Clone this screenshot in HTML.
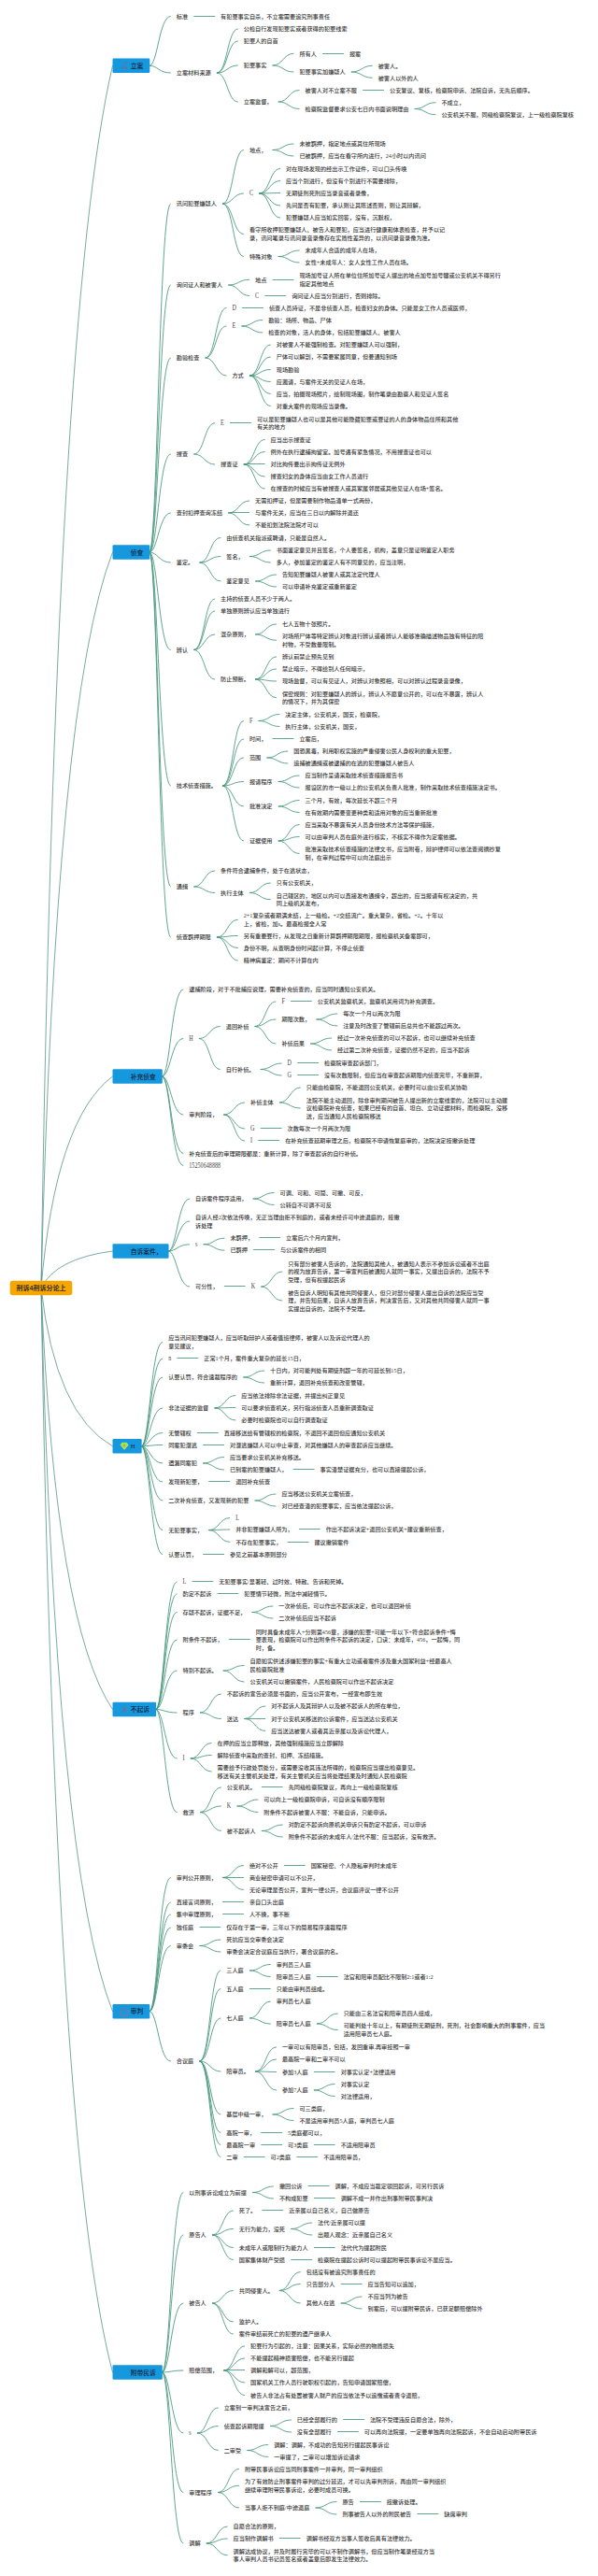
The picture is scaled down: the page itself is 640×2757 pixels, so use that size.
<!DOCTYPE html>
<html lang="zh-CN"><head><meta charset="utf-8"><title>刑诉4刑诉分论上</title>
<style>
html,body{margin:0;padding:0;background:#fff}
body{width:640px;height:2757px;overflow:hidden}
svg{display:block}
text{font-family:"Liberation Serif","Noto Sans CJK SC",sans-serif;font-size:6.16px;fill:#363636;font-weight:500}
.bt{font-weight:500;font-family:"Liberation Serif","Noto Sans CJK SC",sans-serif;font-size:6.75px;fill:#14233c}
.a{font-size:7.2px;font-weight:400;fill:#444}
.rt{font-family:"Liberation Sans","Noto Sans CJK SC",sans-serif;font-size:7px;font-weight:bold;fill:#2a2a2a}
</style></head><body>
<svg width="640" height="2757" viewBox="0 0 640 2757">
<rect width="640" height="2757" fill="#fff"/>
<g fill="none" stroke="#44967a" stroke-width="0.85" stroke-linecap="round">
<path stroke="#4c8f80" stroke-width="0.75" d="M44 1378.5Q59.3 331.94 120.5 70.3M44 1378.5Q59.3 748.5 120.5 591M44 1378.5Q59.3 1197.3 120.5 1152M44 1378.5Q59.3 1346.9 120.5 1339M44 1378.5Q59.3 1513.94 120.5 1547.8M44 1378.5Q59.3 1739.3 120.5 1829.5M44 1378.5Q59.3 1997.86 120.5 2152.7M44 1378.5Q59.3 2306.9 120.5 2539"/>
<path d="M207.72 17.5H229.72M160.3 70.3C168.7 70.3 170.25 17.5 182.4 17.5M345.48 57.5H367.48M376.28 77C387.28 77 387.28 70.3 398.28 70.3M376.28 77C387.28 77 387.28 83.3 398.28 83.3M292 70C303 70 303 57.3 314 57.3M292 70C303 70 303 77 314 77M388.6 96.5H410.6M444.04 116.5C455.04 116.5 455.04 109.7 466.04 109.7M444.04 116.5C455.04 116.5 455.04 122.7 466.04 122.7M298.16 109C309.16 109 309.16 96.5 320.16 96.5M298.16 109C309.16 109 309.16 116.5 320.16 116.5M232.36 78C243.36 78 243.36 31 254.36 31M232.36 78C243.36 78 243.36 44 254.36 44M232.36 78C243.36 78 243.36 70 254.36 70M232.36 78C243.36 78 243.36 109 254.36 109M160.3 70.3C168.7 70.3 170.25 78 182.4 78M292 160.5C303 160.5 303 154 314 154M292 160.5C303 160.5 303 167 314 167M277.63 207C288.63 207 288.63 180.5 299.63 180.5M277.63 207C288.63 207 288.63 193.5 299.63 193.5M277.63 207C288.63 207 288.63 206.5 299.63 206.5M277.63 207C288.63 207 288.63 220 299.63 220M277.63 207C288.63 207 288.63 233 299.63 233M298.16 274.5C309.16 274.5 309.16 268 320.16 268M298.16 274.5C309.16 274.5 309.16 281 320.16 281M238.52 218C249.52 218 249.52 160.5 260.52 160.5M238.52 218C249.52 218 249.52 207 260.52 207M238.52 218C249.52 218 249.52 250.5 260.52 250.5M238.52 218C249.52 218 249.52 274.5 260.52 274.5M160.3 591C168.7 591 170.25 218 182.4 218M292 299.5H314M283.79 316.5H305.79M244.68 305C255.68 305 255.68 299.25 266.68 299.25M244.68 305C255.68 305 255.68 316.5 266.68 316.5M160.3 591C168.7 591 170.25 305 182.4 305M259.49 329.5H281.49M258.8 349C269.8 349 269.8 342.5 280.8 342.5M258.8 349C269.8 349 269.8 356 280.8 356M267.36 402C278.36 402 278.36 369 289.36 369"/>
<path d="M267.36 402C278.36 402 278.36 382 289.36 382M267.36 402C278.36 402 278.36 395.5 289.36 395.5M267.36 402C278.36 402 278.36 408.5 289.36 408.5M267.36 402C278.36 402 278.36 421.5 289.36 421.5M267.36 402C278.36 402 278.36 434.5 289.36 434.5M220.04 383C231.04 383 231.04 329.5 242.04 329.5M220.04 383C231.04 383 231.04 349 242.04 349M220.04 383C231.04 383 231.04 402 242.04 402M160.3 591C168.7 591 170.25 383 182.4 383M246.48 452.5H268.48M261.2 497C272.2 497 272.2 470.5 283.2 470.5M261.2 497C272.2 497 272.2 483.5 283.2 483.5M261.2 496.5H283.2M261.2 497C272.2 497 272.2 510 283.2 510M261.2 497C272.2 497 272.2 523 283.2 523M207.72 486C218.72 486 218.72 452.75 229.72 452.75M207.72 486C218.72 486 218.72 497 229.72 497M160.3 591C168.7 591 170.25 486 182.4 486M244.68 549C255.68 549 255.68 536 266.68 536M244.68 548.5H266.68M244.68 549C255.68 549 255.68 562 266.68 562M160.3 591C168.7 591 170.25 549 182.4 549M267.36 595.5C278.36 595.5 278.36 589 289.36 589M267.36 595.5C278.36 595.5 278.36 602 289.36 602M273.52 622C284.52 622 284.52 615 295.52 615M273.52 622C284.52 622 284.52 628 295.52 628M213.88 602C224.88 602 224.88 575.5 235.88 575.5M213.88 602C224.88 602 224.88 595.5 235.88 595.5M213.88 602C224.88 602 224.88 622 235.88 622M160.3 591C168.7 591 170.25 602 182.4 602M273.52 679C284.52 679 284.52 668 295.52 668M273.52 679C284.52 679 284.52 685.25 295.52 685.25M273.52 727C284.52 727 284.52 703 295.52 703M273.52 727C284.52 727 284.52 716 295.52 716M273.52 727C284.52 727 284.52 729 295.52 729M273.52 727C284.52 727 284.52 746.75 295.52 746.75M207.72 695.5C218.72 695.5 218.72 641 229.72 641M207.72 695.5C218.72 695.5 218.72 654 229.72 654M207.72 695.5C218.72 695.5 218.72 679 229.72 679M207.72 695.5C218.72 695.5 218.72 727 229.72 727"/>
<path d="M160.3 591C168.7 591 170.25 695.5 182.4 695.5M276.95 771.5C287.95 771.5 287.95 764.5 298.95 764.5M276.95 771.5C287.95 771.5 287.95 777.5 298.95 777.5M292 790.5H314M285.84 811C296.84 811 296.84 804 307.84 804M285.84 811C296.84 811 296.84 817 307.84 817M298.16 836.5C309.16 836.5 309.16 830 320.16 830M298.16 836.5C309.16 836.5 309.16 843 320.16 843M298.16 863C309.16 863 309.16 856.5 320.16 856.5M298.16 863C309.16 863 309.16 869.5 320.16 869.5M298.16 900C309.16 900 309.16 882.5 320.16 882.5M298.16 900C309.16 900 309.16 895.5 320.16 895.5M298.16 900C309.16 900 309.16 913.5 320.16 913.5M238.52 841C249.52 841 249.52 771.5 260.52 771.5M238.52 841C249.52 841 249.52 791 260.52 791M238.52 841C249.52 841 249.52 811 260.52 811M238.52 841C249.52 841 249.52 836.5 260.52 836.5M238.52 841C249.52 841 249.52 863 260.52 863M238.52 841C249.52 841 249.52 900 260.52 900M160.3 591C168.7 591 170.25 841 182.4 841M267.36 955.5C278.36 955.5 278.36 945 289.36 945M267.36 955.5C278.36 955.5 278.36 962.75 289.36 962.75M207.72 949C218.72 949 218.72 932 229.72 932M207.72 949C218.72 949 218.72 955.5 229.72 955.5M160.3 591C168.7 591 170.25 949 182.4 949M232.36 1003C243.36 1003 243.36 984.25 254.36 984.25M232.36 1003C243.36 1003 243.36 1001.5 254.36 1001.5M232.36 1003C243.36 1003 243.36 1014.5 254.36 1014.5M232.36 1003C243.36 1003 243.36 1028 254.36 1028M160.3 591C168.7 591 170.25 1003 182.4 1003M173.8 1152C182.2 1152 183.75 1059 195.9 1059M311.41 1071.5H333.41M338.79 1091C349.79 1091 349.79 1085 360.79 1085M338.79 1091C349.79 1091 349.79 1098 360.79 1098M332.63 1117C343.63 1117 343.63 1111 354.63 1111M332.63 1117C343.63 1117 343.63 1124 354.63 1124M272.99 1098.5C283.99 1098.5 283.99 1072 294.99 1072M272.99 1098.5C283.99 1098.5 283.99 1091 294.99 1091M272.99 1098.5C283.99 1098.5 283.99 1117 294.99 1117M318.6 1137.5H340.6"/>
<path d="M318.6 1150.5H340.6M279.15 1144.5C290.15 1144.5 290.15 1138 301.15 1138M279.15 1144.5C290.15 1144.5 290.15 1151 301.15 1151M213.35 1111.5C224.35 1111.5 224.35 1098.5 235.35 1098.5M213.35 1111.5C224.35 1111.5 224.35 1144.5 235.35 1144.5M173.8 1152C182.2 1152 183.75 1111.5 195.9 1111.5M299.34 1180C310.34 1180 310.34 1164 321.34 1164M299.34 1180C310.34 1180 310.34 1186 321.34 1186M279.15 1207.5H301.15M276.75 1220.5H298.75M239.7 1193C250.7 1193 250.7 1180 261.7 1180M239.7 1193C250.7 1193 250.7 1208 261.7 1208M239.7 1193C250.7 1193 250.7 1221 261.7 1221M173.8 1152C182.2 1152 183.75 1193 195.9 1193M173.8 1152C182.2 1152 183.75 1234.5 195.9 1234.5M173.8 1152C182.2 1152 183.75 1247.5 195.9 1247.5M271.09 1283C282.09 1283 282.09 1276.5 293.09 1276.5M271.09 1283C282.09 1283 282.09 1289.5 293.09 1289.5M180.55 1339C188.95 1339 190.5 1283 202.65 1283M180.55 1339C188.95 1339 190.5 1307 202.65 1307M277.69 1324.5H299.69M271.53 1337.5H293.53M218.05 1331.8C229.05 1331.8 229.05 1325.2 240.05 1325.2M218.05 1331.8C229.05 1331.8 229.05 1338.2 240.05 1338.2M180.55 1339C188.95 1339 190.5 1331.8 202.65 1331.8M279.74 1377C290.74 1377 290.74 1361 301.74 1361M279.74 1377C290.74 1377 290.74 1392 301.74 1392M240.29 1376.5H262.29M180.55 1339C188.95 1339 190.5 1377 202.65 1377M151.67 1547.8C160.07 1547.8 161.62 1436.5 173.77 1436.5M189.85 1453.5H211.85M151.67 1547.8C160.07 1547.8 161.62 1454 173.77 1454M260.69 1474C271.69 1474 271.69 1467 282.69 1467M260.69 1474C271.69 1474 271.69 1480 282.69 1480M151.67 1547.8C160.07 1547.8 161.62 1474 173.77 1474M229.89 1507C240.89 1507 240.89 1493.5 251.89 1493.5M229.89 1507C240.89 1507 240.89 1506.5 251.89 1506.5M229.89 1507C240.89 1507 240.89 1520 251.89 1520M151.67 1547.8C160.07 1547.8 161.62 1507 173.77 1507M211.41 1533.5H233.41"/>
<path d="M151.67 1547.8C160.07 1547.8 161.62 1533.5 173.77 1533.5M217.57 1546.5H239.57M151.67 1547.8C160.07 1547.8 161.62 1546.5 173.77 1546.5M314.17 1572.5H336.17M217.57 1566C228.57 1566 228.57 1559.5 239.57 1559.5M217.57 1566C228.57 1566 228.57 1573 239.57 1573M151.67 1547.8C160.07 1547.8 161.62 1566 173.77 1566M223.73 1585.5H245.73M151.67 1547.8C160.07 1547.8 161.62 1586 173.77 1586M273.01 1606C284.01 1606 284.01 1599 295.01 1599M273.01 1606C284.01 1606 284.01 1612 295.01 1612M151.67 1547.8C160.07 1547.8 161.62 1606 173.77 1606M320.33 1636.5H342.33M308.01 1650.5H330.01M223.73 1637.6C234.73 1637.6 234.73 1624.5 245.73 1624.5M223.73 1637.6C234.73 1637.6 234.73 1637 245.73 1637M223.73 1637.6C234.73 1637.6 234.73 1650.3 245.73 1650.3M151.67 1547.8C160.07 1547.8 161.62 1637.6 173.77 1637.6M217.57 1663.5H239.57M151.67 1547.8C160.07 1547.8 161.62 1663.5 173.77 1663.5M205.91 1692.5H227.91M167.05 1829.5C175.45 1829.5 177 1693 189.15 1693M232.95 1705.5H254.95M167.05 1829.5C175.45 1829.5 177 1706 189.15 1706M269.91 1725.5C280.91 1725.5 280.91 1719 291.91 1719M269.91 1725.5C280.91 1725.5 280.91 1732 291.91 1732M167.05 1829.5C175.45 1829.5 177 1725.5 189.15 1725.5M245.27 1754.5H267.27M167.05 1829.5C175.45 1829.5 177 1755 189.15 1755M239.11 1788C250.11 1788 250.11 1782.5 261.11 1782.5M239.11 1788C250.11 1788 250.11 1800 261.11 1800M167.05 1829.5C175.45 1829.5 177 1788 189.15 1788M261.79 1839.5C272.79 1839.5 272.79 1826 283.79 1826M261.79 1839.5H283.79M261.79 1839.5C272.79 1839.5 272.79 1852.5 283.79 1852.5M214.47 1833C225.47 1833 225.47 1813 236.47 1813M214.47 1833C225.47 1833 225.47 1839.5 236.47 1839.5M167.05 1829.5C175.45 1829.5 177 1833 189.15 1833M204.2 1882C215.2 1882 215.2 1865.5 226.2 1865.5M204.2 1882C215.2 1882 215.2 1878.5 226.2 1878.5"/>
<path d="M204.2 1882C215.2 1882 215.2 1896 226.2 1896M167.05 1829.5C175.45 1829.5 177 1882 189.15 1882M280.27 1912.5H302.27M253.92 1933C264.92 1933 264.92 1926 275.92 1926M253.92 1933C264.92 1933 264.92 1939.5 275.92 1939.5M280.27 1959.5C291.27 1959.5 291.27 1953 302.27 1953M280.27 1959.5C291.27 1959.5 291.27 1966 302.27 1966M214.47 1939.5C225.47 1939.5 225.47 1913 236.47 1913M214.47 1939.5C225.47 1939.5 225.47 1933 236.47 1933M214.47 1939.5C225.47 1939.5 225.47 1959.5 236.47 1959.5M167.05 1829.5C175.45 1829.5 177 1939.5 189.15 1939.5M304.32 1996.5H326.32M238.52 2009.5C249.52 2009.5 249.52 1996.5 260.52 1996.5M238.52 2009.5H260.52M238.52 2009.5C249.52 2009.5 249.52 2022.5 260.52 2022.5M160.3 2152.7C168.7 2152.7 170.25 2009.5 182.4 2009.5M238.52 2035.5H260.52M160.3 2152.7C168.7 2152.7 170.25 2036 182.4 2036M238.52 2048.5H260.52M160.3 2152.7C168.7 2152.7 170.25 2049 182.4 2049M213.88 2062.5H235.88M160.3 2152.7C168.7 2152.7 170.25 2063 182.4 2063M213.88 2082.5C224.88 2082.5 224.88 2076 235.88 2076M213.88 2082.5C224.88 2082.5 224.88 2089 235.88 2089M160.3 2152.7C168.7 2152.7 170.25 2082.5 182.4 2082.5M339.32 2115.5H361.32M267.36 2109C278.36 2109 278.36 2102.5 289.36 2102.5M267.36 2109C278.36 2109 278.36 2115.5 289.36 2115.5M267.36 2128.5H289.36M339.32 2166C350.32 2166 350.32 2155 361.32 2155M339.32 2166C350.32 2166 350.32 2172.5 361.32 2172.5M267.36 2160C278.36 2160 278.36 2142 289.36 2142M267.36 2160C278.36 2160 278.36 2166 289.36 2166M336.24 2217.5H358.24M336.24 2237C347.24 2237 347.24 2230.5 358.24 2230.5M336.24 2237C347.24 2237 347.24 2243.5 358.24 2243.5M273.52 2217C284.52 2217 284.52 2191 295.52 2191M273.52 2217C284.52 2217 284.52 2204 295.52 2204M273.52 2217C284.52 2217 284.52 2217.5 295.52 2217.5M273.52 2217C284.52 2217 284.52 2237 295.52 2237"/>
<path d="M292 2263C303 2263 303 2256.5 314 2256.5M292 2263C303 2263 303 2269.5 314 2269.5M279.68 2282.5H301.68M336.24 2295.5H358.24M279.68 2295.5H301.68M317.76 2308.5H339.76M261.2 2308.5H283.2M213.88 2206C224.88 2206 224.88 2109 235.88 2109M213.88 2206C224.88 2206 224.88 2128.5 235.88 2128.5M213.88 2206C224.88 2206 224.88 2160 235.88 2160M213.88 2206C224.88 2206 224.88 2217 235.88 2217M213.88 2206C224.88 2206 224.88 2263 235.88 2263M213.88 2206C224.88 2206 224.88 2282.5 235.88 2282.5M213.88 2206C224.88 2206 224.88 2295.5 235.88 2295.5M213.88 2206C224.88 2206 224.88 2308.5 235.88 2308.5M160.3 2152.7C168.7 2152.7 170.25 2206 182.4 2206M330.14 2339.5H352.14M336.3 2352.5H358.3M270.5 2346.5C281.5 2346.5 281.5 2340 292.5 2340M270.5 2346.5C281.5 2346.5 281.5 2353 292.5 2353M173.8 2539C182.2 2539 183.75 2346.5 195.9 2346.5M280.86 2365.5H302.86M311.66 2385.5C322.66 2385.5 322.66 2379 333.66 2379M311.66 2385.5C322.66 2385.5 322.66 2392 333.66 2392M336.3 2405.5H358.3M311.66 2418.5H333.66M227.38 2392C238.38 2392 238.38 2366 249.38 2366M227.38 2392C238.38 2392 238.38 2385.5 249.38 2385.5M227.38 2392C238.38 2392 238.38 2405.5 249.38 2405.5M227.38 2392C238.38 2392 238.38 2418.5 249.38 2418.5M173.8 2539C182.2 2539 183.75 2392 195.9 2392M365.14 2444.5H387.14M365.14 2465C376.14 2465 376.14 2458 387.14 2458M365.14 2465C376.14 2465 376.14 2471 387.14 2471M299.34 2451.5C310.34 2451.5 310.34 2431.5 321.34 2431.5M299.34 2451.5C310.34 2451.5 310.34 2444.5 321.34 2444.5M299.34 2451.5C310.34 2451.5 310.34 2465 321.34 2465M227.38 2465C238.38 2465 238.38 2451.5 249.38 2451.5M227.38 2465C238.38 2465 238.38 2485 249.38 2485M227.38 2465C238.38 2465 238.38 2498 249.38 2498"/>
<path d="M173.8 2539C182.2 2539 183.75 2465 195.9 2465M239.7 2537C250.7 2537 250.7 2511 261.7 2511M239.7 2537C250.7 2537 250.7 2524 261.7 2524M239.7 2536.5H261.7M239.7 2537C250.7 2537 250.7 2550 261.7 2550M239.7 2537C250.7 2537 250.7 2563.5 261.7 2563.5M173.8 2539C182.2 2539 183.75 2537 195.9 2537M367.54 2589.5H389.54M361.38 2602.5H383.38M289.42 2596.5C300.42 2596.5 300.42 2590 311.42 2590M289.42 2596.5C300.42 2596.5 300.42 2603 311.42 2603M264.78 2622.5C275.78 2622.5 275.78 2616.5 286.78 2616.5M264.78 2622.5C275.78 2622.5 275.78 2629.5 286.78 2629.5M211.3 2604C222.3 2604 222.3 2577 233.3 2577M211.3 2604C222.3 2604 222.3 2596.5 233.3 2596.5M211.3 2604C222.3 2604 222.3 2622.5 233.3 2622.5M173.8 2539C182.2 2539 183.75 2604 195.9 2604M385.33 2677.5H407.33M446.93 2690.5H468.93M338.01 2684C349.01 2684 349.01 2677.5 360.01 2677.5M338.01 2684C349.01 2684 349.01 2691 360.01 2691M233.54 2667.5C244.54 2667.5 244.54 2642.5 255.54 2642.5M233.54 2667.5C244.54 2667.5 244.54 2660.25 255.54 2660.25M233.54 2667.5C244.54 2667.5 244.54 2684 255.54 2684M173.8 2539C182.2 2539 183.75 2667.5 195.9 2667.5M299.34 2716.5H321.34M221.22 2722C232.22 2722 232.22 2704 243.22 2704M221.22 2722C232.22 2722 232.22 2717 243.22 2717M221.22 2722C232.22 2722 232.22 2734.75 243.22 2734.75M173.8 2539C182.2 2539 183.75 2722 195.9 2722"/>
</g>
<rect x="10.7" y="1370.8" width="66.6" height="15.4" rx="3" fill="#f7a600"/>
<text class="rt" x="44" y="1381.1" text-anchor="middle">刑诉4刑诉分论上</text>
<rect x="120.5" y="62.55" width="39.8" height="15.5" rx="1.2" fill="#1598de"/>
<g transform="translate(129 66.3)" opacity="0.75"><path d="M5.6 0.6L1.8 6L6 6.3" fill="none" stroke="#b8506a" stroke-width="0.6"/><circle cx="5.6" cy="0.6" r="0.9" fill="#c8455a"/><circle cx="1.8" cy="6" r="1" fill="#c8455a"/><circle cx="6" cy="6.3" r="1" fill="#c8455a"/></g>
<text class="bt" x="139.8" y="72.8">立案</text>
<rect x="120.5" y="583.25" width="39.8" height="15.5" rx="1.2" fill="#1598de"/>
<text class="bt" x="139.8" y="593.5">侦查</text>
<rect x="120.5" y="1144.25" width="53.3" height="15.5" rx="1.2" fill="#1598de"/>
<text class="bt" x="139.8" y="1154.5">补充侦查</text>
<rect x="120.5" y="1331.25" width="60.05" height="15.5" rx="1.2" fill="#1598de"/>
<text class="bt" x="139.8" y="1341.5">自诉案件，</text>
<rect x="120.5" y="1540.05" width="31.17" height="15.5" rx="1.2" fill="#1598de"/>
<g transform="translate(129 1543.8)"><path d="M1.6 0.4H6.6L8.2 2.8L4.1 7.6L0 2.8Z" fill="#b4e03a" stroke="#d9f08a" stroke-width="0.5"/><path d="M2.8 2.4H5.4L4.1 5.2Z" fill="#5fb86a"/></g>
<text class="bt" x="139.8" y="1550.3">H</text>
<rect x="120.5" y="1821.75" width="46.55" height="15.5" rx="1.2" fill="#1598de"/>
<g transform="translate(129 1825.5)" fill="none" stroke="#c4503f" stroke-width="0.9" opacity="0.8"><path d="M1.4 7.3L6.4 1.4M2.4 1.8L6.4 7.3"/></g>
<text class="bt" x="139.8" y="1832">不起诉</text>
<rect x="120.5" y="2144.95" width="39.8" height="15.5" rx="1.2" fill="#1598de"/>
<g transform="translate(129 2148.7)" fill="none" stroke="#cf5a66" stroke-width="0.8" opacity="0.85"><path d="M3.9 -0.1L8.4 3.4L7.4 8.2H0.4L-0.5 3.4Z"/></g>
<text class="bt" x="139.8" y="2155.2">审判</text>
<rect x="120.5" y="2531.25" width="53.3" height="15.5" rx="1.2" fill="#1598de"/>
<text class="bt" x="139.8" y="2541.5">附带民诉</text>
<g class="t">
<text x="236.12" y="19.75">有犯罪事实自杀，不立案需要追究刑事责任</text>
<text x="188.8" y="19.75">标准</text>
<text x="260.76" y="33.25">公检自行发现犯罪实或者获得的犯罪线索</text>
<text x="260.76" y="46.25">犯罪人的自首</text>
<text x="373.88" y="59.55">报案</text>
<text x="320.4" y="59.55">所有人</text>
<text x="404.68" y="72.55">被害人。</text>
<text x="404.68" y="85.55">被害人以外的人</text>
<text x="320.4" y="79.25">犯罪事实加嫌疑人</text>
<text x="260.76" y="72.25">犯罪事实</text>
<text x="417" y="98.75">公安复议、复核，检察院申诉、法院自诉，无先后顺序。</text>
<text x="326.56" y="98.75">被害人对不立案不服</text>
<text x="472.44" y="111.95">不成立，</text>
<text x="472.44" y="124.95">公安机关不服，同级检察院复议，上一级检察院复核</text>
<text x="326.56" y="118.75">检察院监督要求公安七日内书面说明理由</text>
<text x="260.76" y="111.25">立案监督，</text>
<text x="188.8" y="80.25">立案材料来源</text>
<text x="320.4" y="156.25">未被羁押，指定地点或其住所现场</text>
<text x="320.4" y="169.25">已被羁押，应当在看守所内进行，24小时以内讯问</text>
<text x="266.92" y="162.75">地点，</text>
<text x="306.03" y="182.75">对在现场发现的经出示工作证件，可以口头传唤</text>
<text x="306.03" y="195.75">应当个别进行，但没有个别进行不需要排除，</text>
<text x="306.03" y="208.75">无期徒刑死刑应当录音或者录像，</text>
<text x="306.03" y="222.25">先问是否有犯罪，承认则让其陈述否则，则让其辩解，</text>
<text x="306.03" y="235.25">犯罪嫌疑人应当如实回答，没有，沉默权，</text>
<text class="a" transform="translate(266.92 209.45) scale(0.855 1)">C</text>
<text x="266.92" y="248.4">看守所收押犯罪嫌疑人、被告人和罪犯，应当进行健康和体表检查，并予以记</text>
<text x="266.92" y="257.1">录，讯问笔录与讯问录音录像存在实质性差异的，以讯问录音录像为准。</text>
<text x="326.56" y="270.25">未成年人合适的成年人在场，</text>
<text x="326.56" y="283.25">女性+未成年人：女人女性工作人员在场。</text>
<text x="266.92" y="276.75">特殊对象</text>
<text x="188.8" y="220.25">讯问犯罪嫌疑人</text>
<text x="320.4" y="297.15">现场加号证人所在单位住所加号证人提出的地点加号加号犍或公安机关不得另行</text>
<text x="320.4" y="305.85">指定其他地点</text>
<text x="273.08" y="301.5">地点</text>
<text x="312.19" y="318.75">询问证人应当分别进行，否则排除。</text>
<text class="a" transform="translate(273.08 318.95) scale(0.855 1)">C</text>
<text x="188.8" y="307.25">询问证人和被害人</text>
<text x="287.89" y="331.75">侦查人员持证，不是非侦查人员，检查妇女的身体。只能是女工作人员或医师，</text>
<text class="a" transform="translate(248.44 331.95) scale(0.855 1)">D</text>
<text x="287.2" y="344.75">勘验：场所、物品、尸体</text>
<text x="287.2" y="358.25">检查的对象，活人的身体，包括犯罪嫌疑人、被害人</text>
<text class="a" transform="translate(248.44 351.45) scale(0.855 1)">E</text>
<text x="295.76" y="371.25">对被害人不能强制检查。对犯罪嫌疑人可以强制，</text>
<text x="295.76" y="384.25">尸体可以解剖，不需要家属同意，但要通知到场</text>
<text x="295.76" y="397.75">现场勘验</text>
<text x="295.76" y="410.75">应邀请，与案件无关的见证人在场，</text>
<text x="295.76" y="423.75">应当，拍摄现场照片，绘制现场图，制作笔录由勘察人和见证人签名</text>
<text x="295.76" y="436.75">对重大案件的现场应当录像。</text>
<text x="248.44" y="404.25">方式</text>
<text x="188.8" y="385.25">勘验检查</text>
<text x="274.88" y="450.65">可以是犯罪嫌疑人也可以是其他可能隐藏犯罪或罪证的人的身体物品住所和其他</text>
<text x="274.88" y="459.35">有关的地方</text>
<text class="a" transform="translate(236.12 455.2) scale(0.855 1)">E</text>
<text x="289.6" y="472.75">应当出示搜查证</text>
<text x="289.6" y="485.75">例外在执行逮捕拘留室。加号遇有紧急情况，不用搜查证也可以</text>
<text x="289.6" y="499.25">对比拘传要出示拘传证无例外</text>
<text x="289.6" y="512.25">搜查妇女的身体应当由女工作人员进行</text>
<text x="289.6" y="525.25">在搜查的时候应当有被搜查人或其家属邻居或其他见证人在场+签名。</text>
<text x="236.12" y="499.25">搜查证</text>
<text x="188.8" y="488.25">搜查</text>
<text x="273.08" y="538.25">无需扣押证，但是需要制作物品清单一式两份，</text>
<text x="273.08" y="551.25">与案件无关，应当在三日以内解除并退还</text>
<text x="273.08" y="564.25">不能扣划法院法院才可以</text>
<text x="188.8" y="551.25">查封扣押查询冻结</text>
<text x="242.28" y="577.75">由侦查机关指派或聘请，只能是自然人。</text>
<text x="295.76" y="591.25">书面鉴定意见并且签名，个人要签名，机构，盖章只是证明鉴定人职务</text>
<text x="295.76" y="604.25">多人，参加鉴定的鉴定人有不同意见的，应当注明，</text>
<text x="242.28" y="597.75">签名，</text>
<text x="301.92" y="617.25">告知犯罪嫌疑人被害人或其法定代理人</text>
<text x="301.92" y="630.25">可以申请补充鉴定或重新鉴定</text>
<text x="242.28" y="624.25">鉴定意见</text>
<text x="188.8" y="604.25">鉴定。</text>
<text x="236.12" y="643.25">主持的侦查人员不少于两人。</text>
<text x="236.12" y="656.25">单独原则辨认应当单独进行</text>
<text x="301.92" y="670.25">七人五物十张照片。</text>
<text x="301.92" y="683.15">对场所尸体等特定辨认对象进行辨认或者辨认人能够准确描述物品独有特征的陪</text>
<text x="301.92" y="691.85">衬物，不受数量限制。</text>
<text x="236.12" y="681.25">混杂原则，</text>
<text x="301.92" y="705.25">辨认前禁止预先见到</text>
<text x="301.92" y="718.25">禁止暗示，不得给别人任何暗示，</text>
<text x="301.92" y="731.25">现场监督，可以有见证人，对辨认对象照相，可以对辨认过程录音录像，</text>
<text x="301.92" y="744.65">保密规则：对犯罪嫌疑人的辨认，辨认人不愿意公开的，可以在不暴露，辨认人</text>
<text x="301.92" y="753.35">的情况下，并为其保密</text>
<text x="236.12" y="729.25">防止预断。</text>
<text x="188.8" y="697.75">辨认</text>
<text x="305.35" y="766.75">决定主体，公安机关，国安，检察院，</text>
<text x="305.35" y="779.75">执行主体，公安机关，国安，</text>
<text class="a" transform="translate(266.92 773.95) scale(0.855 1)">F</text>
<text x="320.4" y="793.25">立案后，</text>
<text x="266.92" y="793.25">时间，</text>
<text x="314.24" y="806.25">国恐黑毒，利用职权实施的严重侵害公民人身权利的重大犯罪，</text>
<text x="314.24" y="819.25">追捕被通缉或被逮捕的在逃的犯罪嫌疑人被告人</text>
<text x="266.92" y="813.25">范围</text>
<text x="326.56" y="832.25">应当制作呈请采取技术侦查措施报告书</text>
<text x="326.56" y="845.25">报设区的市一级以上的公安机关负责人批准，制作采取技术侦查措施决定书。</text>
<text x="266.92" y="838.75">报请程序</text>
<text x="326.56" y="858.75">三个月，有效，每次延长不超三个月</text>
<text x="326.56" y="871.75">在有效期内需要变更种类和适用对象的应当重新批准</text>
<text x="266.92" y="865.25">批准决定</text>
<text x="326.56" y="884.75">应当采取不暴露有关人员身份技术方法等保护措施，</text>
<text x="326.56" y="897.75">可以由审判人员在庭外进行核实，不核实不得作为定案依据。</text>
<text x="326.56" y="911.4">批准采取技术侦查措施的法律文书，应当附卷，辩护律师可以依法查阅摘抄复</text>
<text x="326.56" y="920.1">制，在审判过程中可以向法庭出示</text>
<text x="266.92" y="902.25">证据使用</text>
<text x="188.8" y="843.25">技术侦查措施。</text>
<text x="236.12" y="934.25">条件符合逮捕条件，处于在逃状态，</text>
<text x="295.76" y="947.25">只有公安机关，</text>
<text x="295.76" y="960.65">自己辖区的，地区以内可以直接发布通缉令，超出的，应当报请有权决定的，共</text>
<text x="295.76" y="969.35">同上级机关发布，</text>
<text x="236.12" y="957.75">执行主体</text>
<text x="188.8" y="951.25">通缉</text>
<text x="260.76" y="982.15">2+1复杂或者期满未结，上一级检。+2交结流广。重大复杂，省检。+2。十年以</text>
<text x="260.76" y="990.85">上，省检，加s。最高检报全人常</text>
<text x="260.76" y="1003.75">另有重要罪行，从发现之日重新计算羁押期限期限，报检察机关备案即可，</text>
<text x="260.76" y="1016.75">身份不明，从查明身份时间起计算，不停止侦查</text>
<text x="260.76" y="1030.25">精神病鉴定：期间不计算在内</text>
<text x="188.8" y="1005.25">侦查羁押期限</text>
<text x="202.3" y="1061.25">逮捕阶段，对于不批捕应说理，需要补充侦查的，应当同时通知公安机关。</text>
<text x="339.81" y="1074.25">公安机关监察机关，监察机关用词为补充调查。</text>
<text class="a" transform="translate(301.39 1074.45) scale(0.855 1)">F</text>
<text x="367.19" y="1087.25">每次一个月以两次为限</text>
<text x="367.19" y="1100.25">注意及时改变了管辖前后总共也不能超过两次。</text>
<text x="301.39" y="1093.25">期限次数，</text>
<text x="361.03" y="1113.25">经过一次补充侦查的可以不起诉，也可以继续补充侦查</text>
<text x="361.03" y="1126.25">经过第二次补充侦查，证据仍然不足的，应当不起诉</text>
<text x="301.39" y="1119.25">补侦后果</text>
<text x="241.75" y="1100.75">退回补侦</text>
<text x="347" y="1140.25">检察院审查起诉部门，</text>
<text class="a" transform="translate(307.55 1140.45) scale(0.855 1)">D</text>
<text x="347" y="1153.25">没有次数限制，但应当在审查起诉期限内侦查完毕，不重新算，</text>
<text class="a" transform="translate(307.55 1153.45) scale(0.855 1)">G</text>
<text x="241.75" y="1146.75">自行补侦。</text>
<text class="a" transform="translate(202.3 1113.95) scale(0.855 1)">H</text>
<text x="327.74" y="1166.25">只能由检察院，不能退回公安机关，必要时可以由公安机关协助</text>
<text x="327.74" y="1179.55">法院不能主动退回，除非审判期间被告人提出新的立案线索的，法院可以主动建</text>
<text x="327.74" y="1188.25">议检察院补充侦查，如果已经有的自首、坦白、立功证据材料，而检察院，没移</text>
<text x="327.74" y="1196.95">送，应当通知人民检察院移送</text>
<text x="268.1" y="1182.25">补侦主体</text>
<text x="307.55" y="1210.25">次数每次一个月两次为限</text>
<text class="a" transform="translate(268.1 1210.45) scale(0.855 1)">G</text>
<text x="305.15" y="1223.25">在补充侦查延期审理之后，检察院不申请恢复庭审的，法院决定按撤诉处理</text>
<text class="a" transform="translate(268.1 1223.45) scale(0.855 1)">I</text>
<text x="202.3" y="1195.25">审判阶段，</text>
<text x="202.3" y="1236.75">补充侦查后的审理期限都是：重新计算，除了审查起诉的自行补侦。</text>
<text class="a" transform="translate(202.3 1249.95) scale(0.855 1)">15250648888</text>
<text x="299.49" y="1278.75">可调、可和、可简、可撤、可反，</text>
<text x="299.49" y="1291.75">公转自不可调不可反</text>
<text x="209.05" y="1285.25">自诉案件程序适用，</text>
<text x="209.05" y="1304.9">自诉人经2次依法传唤，无正当理由拒不到庭的，或者未经许可中途退庭的，按撤</text>
<text x="209.05" y="1313.6">诉处理</text>
<text x="306.09" y="1327.45">立案后六个月内宣判，</text>
<text x="246.45" y="1327.45">未羁押，</text>
<text x="299.93" y="1340.45">与公诉案件的相同</text>
<text x="246.45" y="1340.45">已羁押</text>
<text class="a" transform="translate(209.05 1334.25) scale(0.855 1)">s</text>
<text x="308.14" y="1354.55">只有部分被害人告诉的，法院通知其他人，被通知人表示不参加诉讼或者不出庭</text>
<text x="308.14" y="1363.25">的视为放弃告诉，第一审宣判后被通知人就同一事实，又提出自诉的，法院不予</text>
<text x="308.14" y="1371.95">受理，但有权提起民诉</text>
<text x="308.14" y="1385.55">被告自诉人明知有其他共同侵害人，但只对部分侵害人提出自诉的法院应当受</text>
<text x="308.14" y="1394.25">理，并告知后果，自诉人放弃告诉，判决宣告后，又对其他共同侵害人就同一事</text>
<text x="308.14" y="1402.95">实提出自诉的，法院不予受理。</text>
<text class="a" transform="translate(268.69 1379.45) scale(0.855 1)">K</text>
<text x="209.05" y="1379.25">可分性，</text>
<text x="180.17" y="1434.4">应当讯问犯罪嫌疑人，应当听取辩护人或者值班律师，被害人以及诉讼代理人的</text>
<text x="180.17" y="1443.1">意见建议，</text>
<text x="218.25" y="1456.25">正常1个月，案件重大复杂的延长15日，</text>
<text class="a" transform="translate(180.17 1456.45) scale(0.855 1)">n</text>
<text x="289.09" y="1469.25">十日内，对可能判处有期徒刑超一年的可延长到15日，</text>
<text x="289.09" y="1482.25">重新计算，退回补充侦查和改变管辖，</text>
<text x="180.17" y="1476.25">认罪认罚，符合速裁程序的</text>
<text x="258.29" y="1495.75">应当依法排除非法证据，并提出纠正意见</text>
<text x="258.29" y="1508.75">可以要求侦查机关，另行指派侦查人员重新调查取证</text>
<text x="258.29" y="1522.25">必要时检察院也可以自行调查取证</text>
<text x="180.17" y="1509.25">非法证据的监督</text>
<text x="239.81" y="1535.75">直接移送给有管辖权的检察院，不退回不退回但应通知公安机关</text>
<text x="180.17" y="1535.75">无管辖权</text>
<text x="245.97" y="1548.75">对潜逃嫌疑人可以中止审查，对其他嫌疑人的审查起诉应当继续。</text>
<text x="180.17" y="1548.75">同案犯潜逃</text>
<text x="245.97" y="1561.75">应当要求公安机关补充移送。</text>
<text x="342.57" y="1575.25">事实清楚证据充分，也可以直接提起公诉，</text>
<text x="245.97" y="1575.25">已到案的犯罪嫌疑人，</text>
<text x="180.17" y="1568.25">遗漏同案犯</text>
<text x="252.13" y="1588.25">退回补充侦查</text>
<text x="180.17" y="1588.25">发现新犯罪，</text>
<text x="301.41" y="1601.25">应当移送公安机关立案侦查，</text>
<text x="301.41" y="1614.25">对已经查清的犯罪事实，应当依法提起公诉，</text>
<text x="180.17" y="1608.25">二次补充侦查，又发现新的犯罪</text>
<text class="a" transform="translate(252.13 1626.95) scale(0.855 1)">L</text>
<text x="348.73" y="1639.25">作出不起诉决定+退回公安机关+建议重新侦查，</text>
<text x="252.13" y="1639.25">并非犯罪嫌疑人所为，</text>
<text x="336.41" y="1652.55">建议撤销案件</text>
<text x="252.13" y="1652.55">不存在犯罪事实，</text>
<text x="180.17" y="1639.85">无犯罪事实，</text>
<text x="245.97" y="1665.75">参见之前基本原则部分</text>
<text x="180.17" y="1665.75">认罪认罚，</text>
<text x="234.31" y="1695.25">无犯罪事实/显著轻、过时效、特赦、告诉和死掉。</text>
<text class="a" transform="translate(195.55 1695.45) scale(0.855 1)">L</text>
<text x="261.35" y="1708.25">犯罪情节轻微，刑法中减轻情节。</text>
<text x="195.55" y="1708.25">酌定不起诉</text>
<text x="298.31" y="1721.25">一次补侦后，可以作出不起诉决定，也可以退回补侦</text>
<text x="298.31" y="1734.25">二次补侦后应当不起诉</text>
<text x="195.55" y="1727.75">存疑不起诉，证据不足，</text>
<text x="273.67" y="1748.55">同时具备未成年人+分则第456章，涉嫌的犯罪+可能一年以下+符合起诉条件+悔</text>
<text x="273.67" y="1757.25">罪表现，检察院可以作出附条件不起诉的决定，口诀：未成年，456，一起悔，同</text>
<text x="273.67" y="1765.95">时，备。</text>
<text x="195.55" y="1757.25">附条件不起诉，</text>
<text x="267.51" y="1780.4">自愿如实供述涉嫌犯罪的事实+有重大立功或者案件涉及重大国家利益+经最高人</text>
<text x="267.51" y="1789.1">民检察院批准</text>
<text x="267.51" y="1802.25">公安机关可以撤销案件，人民检察院可以作出不起诉决定</text>
<text x="195.55" y="1790.25">特别不起诉。</text>
<text x="242.87" y="1815.25">不起诉的宣告必须是书面的，应当公开宣布，一经宣布即生效</text>
<text x="290.19" y="1828.25">对不起诉人及其辩护人以及被不起诉人的所在单位，</text>
<text x="290.19" y="1841.75">对于公安机关移送的公诉案件，应当送达公安机关</text>
<text x="290.19" y="1854.75">应当送达被害人或者其近亲属以及诉讼代理人，</text>
<text x="242.87" y="1841.75">送达</text>
<text x="195.55" y="1835.25">程序</text>
<text x="232.6" y="1867.75">在押的应当立即释放，其他强制措施应当立即解除</text>
<text x="232.6" y="1880.75">解除侦查中采取的查封、扣押、冻结措施。</text>
<text x="232.6" y="1893.9">需要给予行政处罚处分，或需要没收其违法所得的，检察院应当提出检察意见。</text>
<text x="232.6" y="1902.6">移送有关主管机关处理，有关主管机关应当将处理结果及时通知人民检察院</text>
<text class="a" transform="translate(195.55 1884.45) scale(0.855 1)">I</text>
<text x="308.67" y="1915.25">先同级检察院复议，再向上一级检察院复核</text>
<text x="242.87" y="1915.25">公安机关。</text>
<text x="282.32" y="1928.25">可以向上一级检察院申诉，可自诉没有顺序限制</text>
<text x="282.32" y="1941.75">附条件不起诉被害人不服：不能自诉，只能申诉。</text>
<text class="a" transform="translate(242.87 1935.45) scale(0.855 1)">K</text>
<text x="308.67" y="1955.25">对酌定不起诉向原机关申诉只有酌定不起诉，可以申诉</text>
<text x="308.67" y="1968.25">附条件不起诉的未成年人/法代不服：应当起诉，没有救济。</text>
<text x="242.87" y="1961.75">被不起诉人</text>
<text x="195.55" y="1941.75">救济</text>
<text x="332.72" y="1998.75">国家秘密、个人隐私审判时未成年</text>
<text x="266.92" y="1998.75">绝对不公开</text>
<text x="266.92" y="2011.75">商业秘密申请可以不公开，</text>
<text x="266.92" y="2024.75">无论审理是否公开，宣判一律公开，合议庭评议一律不公开</text>
<text x="188.8" y="2011.75">审判公开原则，</text>
<text x="266.92" y="2038.25">亲自口头出庭</text>
<text x="188.8" y="2038.25">直接言词原则，</text>
<text x="266.92" y="2051.25">人不换，事不断</text>
<text x="188.8" y="2051.25">集中审理原则，</text>
<text x="242.28" y="2065.25">仅存在于第一审，三年以下的简易程序速裁程序</text>
<text x="188.8" y="2065.25">独任庭</text>
<text x="242.28" y="2078.25">死抗应当交审委会决定</text>
<text x="242.28" y="2091.25">审委会决定合议庭应当执行，署合议庭的名。</text>
<text x="188.8" y="2084.75">审委会</text>
<text x="295.76" y="2104.75">审判员三人庭</text>
<text x="367.72" y="2117.75">法官和陪审员配比不限制2:1或者1:2</text>
<text x="295.76" y="2117.75">陪审员三人庭</text>
<text x="242.28" y="2111.25">三人庭</text>
<text x="295.76" y="2130.75">只能由审判员组成。</text>
<text x="242.28" y="2130.75">五人庭</text>
<text x="295.76" y="2144.25">审判员七人庭</text>
<text x="367.72" y="2157.25">只能由三名法官和陪审员四人组成，</text>
<text x="367.72" y="2170.4">可能判处十年以上，有期徒刑无期徒刑，死刑，社会影响重大的刑事案件，应当</text>
<text x="367.72" y="2179.1">适用陪审员七人庭。</text>
<text x="295.76" y="2168.25">陪审员七人庭</text>
<text x="242.28" y="2162.25">七人庭</text>
<text x="301.92" y="2193.25">一审可以有陪审员，包括，发回重审,再审按照一审</text>
<text x="301.92" y="2206.25">最高院一审和二审不可以</text>
<text x="364.64" y="2219.75">对事实认定+法律适用</text>
<text x="301.92" y="2219.75">参加3人庭</text>
<text x="364.64" y="2232.75">对事实认定</text>
<text x="364.64" y="2245.75">对法律适用，</text>
<text x="301.92" y="2239.25">参加7人庭</text>
<text x="242.28" y="2219.25">陪审员。</text>
<text x="320.4" y="2258.75">可三类庭，</text>
<text x="320.4" y="2271.75">不是适用审判员5人庭，审判员七人庭</text>
<text x="242.28" y="2265.25">基层中级一审，</text>
<text x="308.08" y="2284.75">5类庭都可以，</text>
<text x="242.28" y="2284.75">高院一审，</text>
<text x="364.64" y="2297.75">不适用陪审员</text>
<text x="308.08" y="2297.75">可3类庭</text>
<text x="242.28" y="2297.75">最高院一审</text>
<text x="346.16" y="2310.75">不适用陪审员，</text>
<text x="289.6" y="2310.75">可2类庭</text>
<text x="242.28" y="2310.75">二审</text>
<text x="188.8" y="2208.25">合议庭</text>
<text x="358.54" y="2342.25">调解，不成应当裁定驳回起诉，可另行民诉</text>
<text x="298.9" y="2342.25">撤回公诉</text>
<text x="364.7" y="2355.25">调解不成一并作出刑事附带民事判决</text>
<text x="298.9" y="2355.25">不构成犯罪</text>
<text x="202.3" y="2348.75">以刑事诉讼成立为前提</text>
<text x="309.26" y="2368.25">近亲属以自己名义，自己做原告</text>
<text x="255.78" y="2368.25">死了。</text>
<text x="340.06" y="2381.25">法代/近亲属可以提</text>
<text x="340.06" y="2394.25">出题人观念：近亲属自己名义</text>
<text x="255.78" y="2387.75">无行为能力，没死</text>
<text x="364.7" y="2407.75">法代代为提起附民</text>
<text x="255.78" y="2407.75">未成年人或限制行为能力人</text>
<text x="340.06" y="2420.75">检察院在提起公诉时可以提起附带民事诉讼不是应当。</text>
<text x="255.78" y="2420.75">国家集体财产受损</text>
<text x="202.3" y="2394.25">原告人</text>
<text x="327.74" y="2433.75">包括没有被追究刑事责任的</text>
<text x="393.54" y="2446.75">应当告知可以追加，</text>
<text x="327.74" y="2446.75">只告部分人</text>
<text x="393.54" y="2460.25">不应当列为被告</text>
<text x="393.54" y="2473.25">到案后，可以提附带民诉，已获足额赔偿除外</text>
<text x="327.74" y="2467.25">其他人在逃</text>
<text x="255.78" y="2453.75">共同侵害人。</text>
<text x="255.78" y="2487.25">监护人。</text>
<text x="255.78" y="2500.25">案件审结前死亡的犯罪的遗产继承人</text>
<text x="202.3" y="2467.25">被告人</text>
<text x="268.1" y="2513.25">犯罪行为引起的，注意：因果关系，实际必然的物质损失</text>
<text x="268.1" y="2526.25">不能提起精神损害赔偿，也不能另行提起</text>
<text x="268.1" y="2539.25">调解和解可以，超范围，</text>
<text x="268.1" y="2552.25">国家机关工作人员行驶职权引起的，告知申请国家赔偿，</text>
<text x="268.1" y="2565.75">被告人非法占有处置被害人财产的应当依法予以追缴或者责令退赔，</text>
<text x="202.3" y="2539.25">赔偿范围，</text>
<text x="239.7" y="2579.25">立案到一审判决宣告之前，</text>
<text x="395.94" y="2592.25">法院不受理违反自愿合法，除外，</text>
<text x="317.82" y="2592.25">已经全部履行的</text>
<text x="389.78" y="2605.25">可以再向法院提，一定要单独再向法院起诉，不会自动启动附带民诉</text>
<text x="317.82" y="2605.25">没有全部履行</text>
<text x="239.7" y="2598.75">侦查起诉期限提</text>
<text x="293.18" y="2618.75">调解：调解，不成功的告知另行提起民事诉讼</text>
<text x="293.18" y="2631.75">一审提了，二审可以增加诉讼请求</text>
<text x="239.7" y="2624.75">二审受</text>
<text class="a" transform="translate(202.3 2606.45) scale(0.855 1)">s</text>
<text x="261.94" y="2644.75">附带民事诉讼应当同刑事案件一并审判，同一审判组织</text>
<text x="261.94" y="2658.15">为了有效防止刑事案件审判的过分延迟，才可以先审判刑诉，再由同一审判组织</text>
<text x="261.94" y="2666.85">继续审理附带民事诉讼，必要时成员可换。</text>
<text x="413.73" y="2679.75">按撤诉处理。</text>
<text x="366.41" y="2679.75">原告</text>
<text x="475.33" y="2693.25">缺席审判</text>
<text x="366.41" y="2693.25">刑事被告人以外的附民被告</text>
<text x="261.94" y="2686.25">当事人拒不到庭/中途退庭</text>
<text x="202.3" y="2669.75">审理程序</text>
<text x="249.62" y="2706.25">自愿合法的原则，</text>
<text x="327.74" y="2719.25">调解书经双方当事人签收后具有法律效力。</text>
<text x="249.62" y="2719.25">应当制作调解书</text>
<text x="249.62" y="2732.65">调解达成协议，并及时履行完毕的可以不制作调解书，但应当制作笔录经双方当</text>
<text x="249.62" y="2741.35">事人审判人员书记员签名或者盖章后即发生法律效力。</text>
<text x="202.3" y="2724.25">调解</text>
</g></svg>
</body></html>
